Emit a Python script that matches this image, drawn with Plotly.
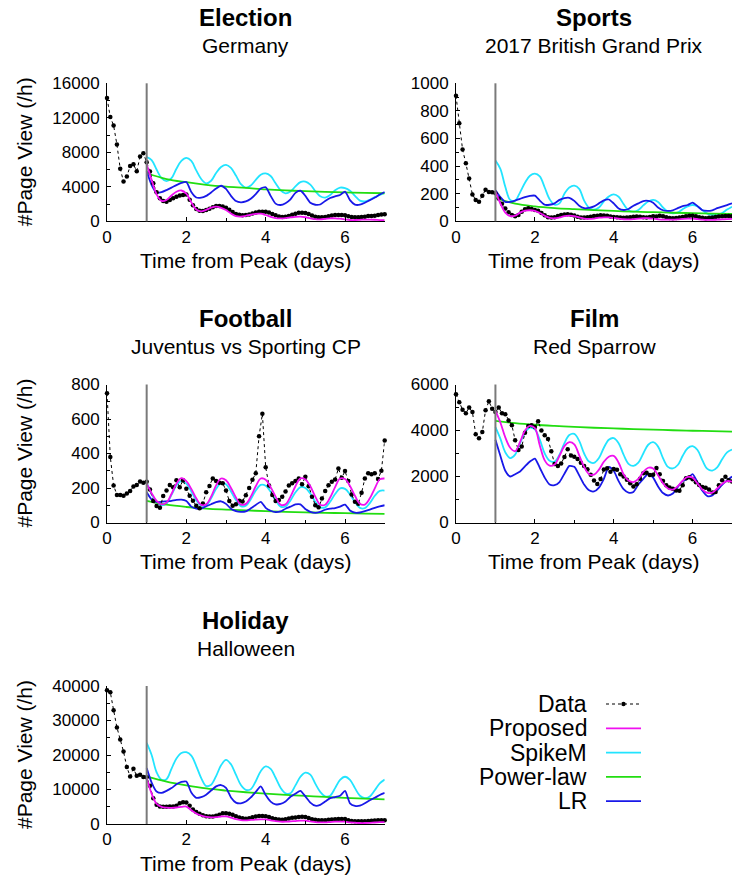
import plotly.graph_objects as go

# ---------------- time grids (hours from peak) ----------------
DATA_HOURS = list(range(0, 169, 2))      # observed page views, every 2 h
MODEL_HOURS = list(range(24, 169, 3))    # model fits, every 3 h from day 1
POWER_HOURS = list(range(24, 169, 12))   # power-law fit, every 12 h
SPLIT_DAY = 1

# ---------------- Election / Germany ----------------
election_data = [14300, 12100, 11100, 8900, 6100, 4600, 5200, 6400, 6600, 5800, 7500, 7900,
                 6840, 5760, 4400, 3360, 2670, 2360, 2280, 2470, 2670, 2860,
                 2980, 3050, 3100, 2500, 1850, 1420, 1220, 1200, 1300, 1460,
                 1640, 1760, 1780, 1720, 1580, 1350, 1080, 860, 750, 700,
                 720, 790, 900, 1020, 1100, 1120, 1120, 1030, 860, 700,
                 570, 510, 520, 620, 760, 880, 980, 1000, 970, 860,
                 680, 530, 470, 460, 500, 580, 660, 720, 730, 720,
                 700, 580, 500, 460, 460, 500, 540, 600, 620, 650,
                 720, 800, 820]
election_proposed = [6600, 4800, 3130, 2370, 2470, 3000, 3420, 3570, 3200, 2200,
                     1360, 1150, 1330, 1580, 1690, 1560, 1300, 900, 600, 550,
                     640, 760, 870, 880, 730, 520, 380, 350, 370, 450,
                     520, 540, 470, 350, 250, 230, 290, 350, 350, 310,
                     230, 150, 150, 170, 200, 200, 180, 140, 140]
election_spikem = [7460, 7100, 6000, 5000, 4650, 5000, 6100, 7000, 7350, 7000,
                   5900, 4900, 4400, 4700, 5600, 6300, 6550, 6200, 5300, 4300,
                   3900, 4150, 4800, 5400, 5550, 5250, 4400, 3600, 3250, 3450,
                   4050, 4550, 4600, 4250, 3500, 2900, 2750, 3050, 3600, 3900,
                   3850, 3550, 2950, 2400, 2300, 2500, 2800, 3050, 3300]
election_power = [5570, 4900, 4530, 4230, 4020, 3870, 3700, 3580, 3500, 3420, 3360, 3300, 3250]
election_lr = [5800, 4200, 3320, 3380, 3620, 3900, 4200, 4450, 4550, 3400,
               2760, 2740, 2950, 3350, 3800, 4120, 3750, 2950, 2350, 2200,
               2300, 2620, 3150, 3800, 3950, 2950, 2050, 1890, 2100, 2550,
               3300, 3550, 2950, 2150, 1920, 1950, 2350, 2700, 2900, 3050,
               3450, 2450, 1930, 1920, 2150, 2450, 2750, 3100, 3400]

# ---------------- Sports / 2017 British Grand Prix ----------------
sports_data = [910, 710, 520, 420, 310, 195, 155, 142, 185, 228, 213, 210,
               203, 165, 128, 92, 65, 46, 36, 46, 70, 88,
               94, 90, 82, 76, 60, 43, 30, 27, 30, 38,
               45, 50, 51, 47, 42, 33, 27, 27, 29, 33,
               38, 41, 43, 42, 40, 35, 32, 29, 27, 26,
               28, 30, 33, 35, 33, 30, 28, 32, 36, 34,
               40, 36, 30, 24, 22, 24, 28, 32, 37, 40,
               41, 36, 30, 25, 22, 25, 28, 31, 34, 36,
               38, 38, 36]
sports_proposed = [215, 130, 63, 38, 41, 63, 77, 80, 76, 60,
                   40, 25, 22, 28, 38, 41, 38, 28, 20, 17,
                   20, 26, 29, 28, 24, 20, 15, 14, 16, 20,
                   22, 22, 19, 15, 12, 12, 12, 14, 17, 19,
                   19, 16, 12, 10, 10, 12, 14, 16, 17]
sports_spikem = [440, 380, 250, 155, 150, 210, 280, 330, 345, 325,
                 245, 160, 120, 130, 200, 245, 258, 235, 150, 97,
                 84, 100, 145, 180, 195, 178, 125, 80, 70, 82,
                 115, 143, 155, 140, 100, 70, 58, 65, 88, 108,
                 118, 108, 80, 56, 46, 48, 60, 85, 106]
sports_power = [170, 128, 108, 96, 88, 81, 75, 70, 66, 62, 59, 56, 53]
sports_lr = [225, 175, 140, 140, 150, 163, 175, 184, 186, 150,
             120, 120, 130, 155, 168, 170, 148, 112, 95, 97,
             108, 130, 152, 158, 130, 93, 82, 89, 113, 130,
             147, 148, 135, 100, 80, 76, 80, 95, 110, 118,
             135, 110, 80, 76, 80, 95, 107, 118, 130]

# ---------------- Football / Juventus vs Sporting CP ----------------
football_data = [750, 380, 215, 160, 160, 155, 168, 183, 208, 218, 238, 230,
                 236, 191, 124, 95, 85, 153, 185, 218, 205, 245,
                 205, 245, 195, 155, 126, 97, 82, 110, 175, 212,
                 255, 240, 230, 228, 185, 125, 97, 106, 126, 122,
                 158, 200, 248, 285, 500, 630, 320, 215, 160, 125,
                 131, 150, 180, 215, 228, 240, 255, 222, 265, 210,
                 150, 100, 88, 139, 182, 216, 236, 249, 313, 259,
                 298, 240, 162, 120, 108, 172, 255, 285, 280, 285,
                 252, 300, 475]
football_proposed = [225, 170, 125, 105, 115, 165, 225, 257, 240, 195,
                     140, 102, 105, 150, 215, 255, 245, 200, 145, 104,
                     108, 150, 210, 255, 248, 205, 150, 103, 105, 150,
                     210, 256, 250, 210, 150, 103, 103, 145, 205, 255,
                     252, 212, 155, 108, 104, 140, 198, 250, 255]
football_spikem = [232, 165, 118, 100, 110, 160, 215, 240, 225, 180,
                   128, 97, 100, 140, 195, 228, 222, 180, 130, 95,
                   97, 135, 185, 218, 213, 178, 128, 92, 93, 128,
                   175, 205, 200, 168, 120, 88, 88, 120, 165, 198,
                   195, 163, 117, 85, 83, 112, 155, 183, 185]
football_power = [125, 103, 90, 81, 75, 70, 66, 62, 59, 56, 54, 52, 50]
football_lr = [175, 133, 119, 120, 123, 126, 131, 133, 125, 92,
               81, 81, 94, 106, 118, 123, 108, 80, 66, 62,
               65, 82, 102, 120, 85, 68, 60, 64, 80, 92,
               105, 105, 78, 62, 56, 62, 74, 80, 84, 92,
               104, 70, 57, 58, 66, 75, 85, 94, 100]

# ---------------- Film / Red Sparrow ----------------
film_data = [5580, 5230, 4900, 4750, 5000, 4800, 3840, 3665, 3930, 4880, 5270, 4950,
             4800, 5000, 4750, 4710, 4440, 4230, 3580, 3150, 3300, 3900,
             4200, 4230, 4150, 4400, 4000, 3790, 3630, 3100, 2540, 2460,
             2560, 2850, 3180, 2910, 2860, 2760, 2600, 2460, 2320, 2080,
             1830, 1670, 1890, 2300, 2360, 2210, 2330, 2290, 2100, 2000,
             1855, 1710, 1565, 1665, 1900, 2140, 2160, 2070, 2080, 2370,
             2100, 1800, 1620, 1520, 1470, 1390, 1380, 1620, 1920, 1970,
             1880, 1750, 1630, 1540, 1510, 1440, 1300, 1330, 1620, 1840,
             1990, 1840, 1780]
film_proposed = [4850, 4350, 3700, 3250, 3100, 3500, 4000, 4200, 4100, 3350,
                 2700, 2470, 2520, 2900, 3320, 3490, 3400, 2920, 2420, 2100,
                 2080, 2300, 2640, 2860, 2900, 2600, 2100, 1830, 1760, 1900,
                 2200, 2380, 2350, 2050, 1700, 1480, 1430, 1580, 1820, 1980,
                 1950, 1700, 1430, 1290, 1300, 1480, 1680, 1800, 1780]
film_spikem = [4150, 3650, 3050, 2800, 2950, 3450, 3900, 4120, 4050, 3600,
               3000, 2680, 2650, 2950, 3450, 3800, 3850, 3550, 3000, 2650,
               2590, 2800, 3250, 3600, 3670, 3450, 2950, 2550, 2460, 2600,
               3000, 3380, 3490, 3300, 2800, 2420, 2350, 2500, 2900, 3230,
               3320, 3150, 2700, 2330, 2260, 2400, 2750, 3050, 3170]
film_power = [4420, 4320, 4250, 4200, 4160, 4120, 4090, 4060, 4040, 4010, 3990, 3970, 3950]
film_lr = [3600, 2900, 2250, 2000, 2100, 2220, 2440, 2650, 2780, 2380,
           1950, 1650, 1620, 1760, 2120, 2460, 2420, 2050, 1650, 1400,
           1350, 1520, 1900, 2420, 2250, 1800, 1450, 1300, 1330, 1650,
           1900, 2120, 1950, 1570, 1280, 1175, 1260, 1550, 1800, 1900,
           2100, 1750, 1380, 1150, 1180, 1400, 1640, 1830, 2000]

# ---------------- Holiday / Halloween ----------------
holiday_data = [38800, 38200, 33000, 28000, 24500, 21000, 16500, 13800, 16000, 14000, 14300, 13600,
                13560, 11060, 7500, 5580, 5100, 5000, 5000, 5050, 5100, 5290,
                6000, 6300, 6250, 5300, 4200, 3450, 2950, 2550, 2250, 2200,
                2200, 2380, 2650, 3100, 3150, 3000, 2700, 2250, 1850, 1650,
                1550, 1700, 1950, 2150, 2300, 2300, 2250, 2050, 1700, 1480,
                1300, 1250, 1400, 1600, 1800, 1900, 2000, 2100, 2050, 1750,
                1400, 1200, 1080, 1060, 1100, 1200, 1300, 1400, 1450, 1480,
                1450, 1100, 900, 830, 770, 770, 800, 860, 960, 1050,
                1100, 1100, 1100]
holiday_proposed = [13300, 8800, 5870, 4950, 4720, 4700, 4780, 4950, 5050, 4000,
                    3050, 2450, 2050, 1930, 2000, 2180, 2200, 1850, 1380, 1120,
                    1060, 1180, 1280, 1350, 1330, 1080, 830, 670, 670, 760,
                    860, 950, 950, 760, 570, 480, 480, 570, 660, 680,
                    660, 480, 380, 290, 290, 350, 430, 530, 560]
holiday_spikem = [23500, 20000, 15000, 12800, 13000, 16000, 19000, 20600, 20800, 19800,
                  16800, 13300, 11000, 11400, 13900, 17000, 18600, 17300, 14300, 11300,
                  9900, 10100, 12400, 15300, 16700, 16000, 13400, 10500, 8900, 8900,
                  11200, 13700, 14900, 14300, 11700, 9300, 8000, 8200, 10400, 12800,
                  13700, 12800, 10400, 8200, 7500, 8000, 9800, 11800, 12900]
holiday_power = [13700, 12300, 11200, 10300, 9700, 9200, 8800, 8450, 8150, 7850, 7600, 7350, 7150]
holiday_lr = [16200, 12000, 9400, 9000, 9600, 10400, 11500, 12200, 12300, 9100,
              7600, 7800, 8500, 9700, 10900, 11300, 10500, 7700, 6200, 6000,
              6500, 7700, 9300, 10900, 8400, 6500, 5700, 5800, 6500, 7900,
              8800, 9600, 8000, 6200, 5300, 5550, 6500, 7500, 7800, 8200,
              9600, 6000, 5250, 5300, 6000, 6900, 7600, 8400, 9000]

PANELS = [
    ("Election", "Germany", election_data, election_proposed, election_spikem, election_power, election_lr, 16000, 4000),
    ("Sports", "2017 British Grand Prix", sports_data, sports_proposed, sports_spikem, sports_power, sports_lr, 1000, 200),
    ("Football", "Juventus vs Sporting CP", football_data, football_proposed, football_spikem, football_power, football_lr, 800, 200),
    ("Film", "Red Sparrow", film_data, film_proposed, film_spikem, film_power, film_lr, 6000, 2000),
    ("Holiday", "Halloween", holiday_data, holiday_proposed, holiday_spikem, holiday_power, holiday_lr, 40000, 10000),
]

SERIES = ["Data", "Proposed", "SpikeM", "Power-law", "LR"]
COLORS = {"Proposed": "#f010f0", "SpikeM": "#22e4ff", "Power-law": "#22dd11", "LR": "#1818e8"}

# ---------------- layout geometry (pixels of a 732 x 879 page) ----------------
W, H = 732, 879
FONT = "Liberation Sans, Arial, Helvetica, sans-serif"
COL_PX = [(107, 384.7), (456, 732)]
ROW_TOP_PX = [83.3, 384.5, 686]
PLOT_H = 138


def px_x(p):
    return p / W


def px_y(p):
    return 1 - p / H


def days(hours):
    return [h / 24 for h in hours]


fig = go.Figure()
annotations = []
shapes = []

for i, (title, sub, d, prop, spk, pw, lr, ymax, dtick) in enumerate(PANELS):
    r, c = divmod(i, 2)
    n = i + 1
    xa = "x" if n == 1 else f"x{n}"
    ya = "y" if n == 1 else f"y{n}"
    x0p, x1p = COL_PX[c]
    top = ROW_TOP_PX[r]
    bot = top + PLOT_H

    fig.add_trace(go.Scatter(x=days(MODEL_HOURS), y=spk, mode="lines", line=dict(color=COLORS["SpikeM"], width=1.8, shape="spline"),
                             xaxis=xa, yaxis=ya, showlegend=False, hoverinfo="skip"))
    fig.add_trace(go.Scatter(x=days(POWER_HOURS), y=pw, mode="lines", line=dict(color=COLORS["Power-law"], width=1.8, shape="spline"),
                             xaxis=xa, yaxis=ya, showlegend=False, hoverinfo="skip"))
    fig.add_trace(go.Scatter(x=days(MODEL_HOURS), y=lr, mode="lines", line=dict(color=COLORS["LR"], width=1.8, shape="spline", smoothing=0.6),
                             xaxis=xa, yaxis=ya, showlegend=False, hoverinfo="skip"))
    fig.add_trace(go.Scatter(x=days(DATA_HOURS), y=d, mode="lines+markers",
                             line=dict(color="black", width=1, dash="dot"),
                             marker=dict(color="black", size=4.5),
                             xaxis=xa, yaxis=ya, showlegend=False, cliponaxis=False, hoverinfo="skip"))
    fig.add_trace(go.Scatter(x=days(MODEL_HOURS), y=prop, mode="lines", line=dict(color=COLORS["Proposed"], width=1.8, shape="spline"),
                             xaxis=xa, yaxis=ya, showlegend=False, hoverinfo="skip"))

    axis_common = dict(showline=True, linecolor="black", linewidth=1, showgrid=False, zeroline=False,
                       ticks="inside", ticklen=4, tickcolor="black", automargin=False,
                       tickfont=dict(family=FONT, size=17, color="black"))
    fig.layout[("xaxis" if n == 1 else f"xaxis{n}")] = dict(
        domain=[px_x(x0p), px_x(x1p)], range=[0, 7], anchor=ya, tickvals=[0, 2, 4, 6],
        minor=dict(tickvals=[1, 3, 5, 7], ticks="inside", ticklen=3, tickcolor="black"),
        **axis_common)
    fig.layout[("yaxis" if n == 1 else f"yaxis{n}")] = dict(
        domain=[px_y(bot), px_y(top)], range=[0, ymax], anchor=xa, dtick=dtick, tick0=0, tickformat="d",
        minor=dict(dtick=dtick / 2, tick0=0, ticks="inside", ticklen=3, tickcolor="black"),
        ticklabelstandoff=3, **axis_common)

    shapes.append(dict(type="line", xref=xa, yref=f"{ya} domain", x0=SPLIT_DAY, x1=SPLIT_DAY, y0=0, y1=1,
                       line=dict(color="#7a7a7a", width=2)))

    cx = px_x((x0p + x1p) / 2)
    annotations.append(dict(text=f"<b>{title}</b>", x=cx, y=px_y(top - 66), xref="paper", yref="paper",
                            showarrow=False, xanchor="center", yanchor="middle",
                            font=dict(family=FONT, size=24, color="black")))
    annotations.append(dict(text=sub, x=cx, y=px_y(top - 38), xref="paper", yref="paper",
                            showarrow=False, xanchor="center", yanchor="middle",
                            font=dict(family=FONT, size=21, color="black")))
    annotations.append(dict(text="Time from Peak (days)", x=cx, y=px_y(bot + 39), xref="paper", yref="paper",
                            showarrow=False, xanchor="center", yanchor="middle",
                            font=dict(family=FONT, size=21, color="black")))
    if c == 0:
        annotations.append(dict(text="#Page View (/h)", x=px_x(24), y=px_y(top + PLOT_H / 2), xref="paper", yref="paper",
                                showarrow=False, xanchor="center", yanchor="middle", textangle=-90,
                                font=dict(family=FONT, size=21, color="black")))

# ---------------- legend (drawn manually: text left of line samples) ----------------
LEG_TEXT_RIGHT = 588
LEG_LINE = (606, 641)
LEG_Y0, LEG_DY = 704, 24.3
for k, name in enumerate(SERIES):
    yy = LEG_Y0 + k * LEG_DY
    annotations.append(dict(text=name, x=px_x(LEG_TEXT_RIGHT), y=px_y(yy), xref="paper", yref="paper",
                            showarrow=False, xanchor="right", yanchor="middle", borderpad=0,
                            font=dict(family=FONT, size=23, color="black")))
    if name == "Data":
        shapes.append(dict(type="line", xref="paper", yref="paper", x0=px_x(LEG_LINE[0]), x1=px_x(LEG_LINE[1]),
                           y0=px_y(yy), y1=px_y(yy), line=dict(color="black", width=1, dash="dot")))
        mid = (LEG_LINE[0] + LEG_LINE[1]) / 2
        shapes.append(dict(type="circle", xref="paper", yref="paper", x0=px_x(mid - 2.2), x1=px_x(mid + 2.2),
                           y0=px_y(yy + 2.2), y1=px_y(yy - 2.2), fillcolor="black", line=dict(width=0)))
    else:
        shapes.append(dict(type="line", xref="paper", yref="paper", x0=px_x(LEG_LINE[0]), x1=px_x(LEG_LINE[1]),
                           y0=px_y(yy), y1=px_y(yy), line=dict(color=COLORS[name], width=1.8)))

fig.update_layout(width=W, height=H, margin=dict(l=0, r=0, t=0, b=0, pad=0, autoexpand=False),
                  paper_bgcolor="white", plot_bgcolor="white", hovermode=False,
                  showlegend=False, annotations=annotations, shapes=shapes, font=dict(family=FONT))

fig.write_html("out.html", config={"displayModeBar": False, "staticPlot": True},
               post_script="document.body.style.margin='0';document.body.style.padding='0';"
                           "document.documentElement.style.overflow='hidden';")
